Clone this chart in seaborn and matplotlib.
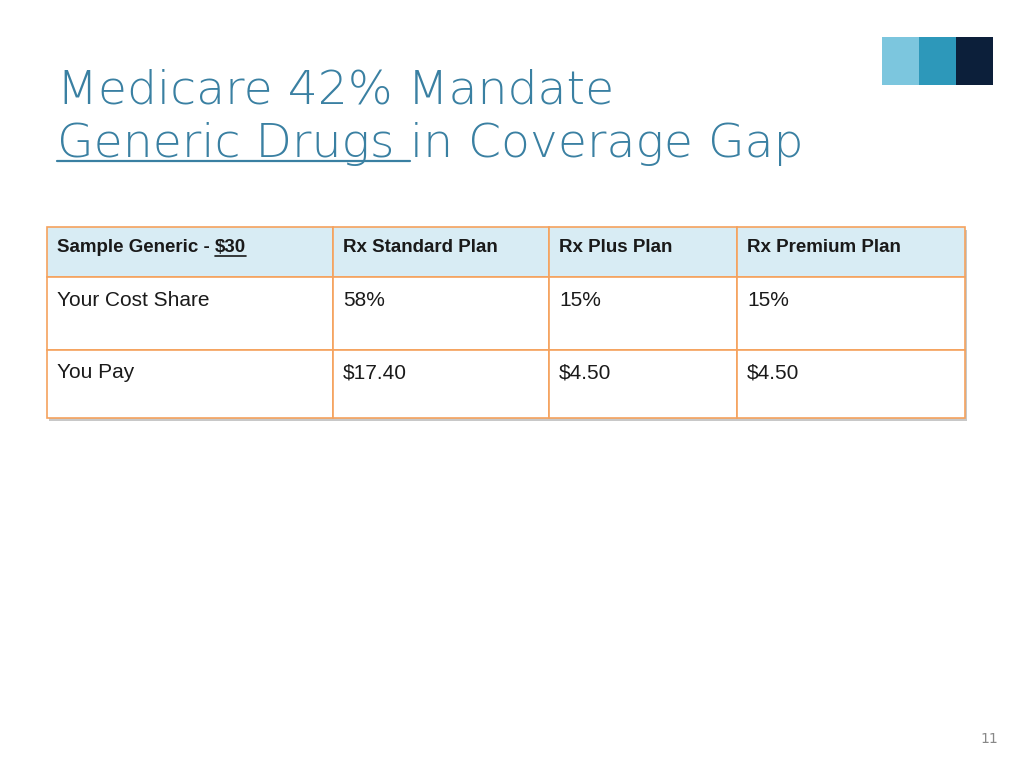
import matplotlib
matplotlib.use("Agg")
import matplotlib.pyplot as plt
import seaborn as sns
from matplotlib.patches import Rectangle

sns.set_theme(style="white")

# ---- data ----
header_lead = "Sample Generic - "
header_price = "$30"
plan_names = ["Rx Standard Plan", "Rx Plus Plan", "Rx Premium Plan"]
row_labels = ["Your Cost Share", "You Pay"]
cost_share = ["58%", "15%", "15%"]
you_pay = ["$17.40", "$4.50", "$4.50"]

# ---- layout (pixels) ----
col_edges = [47, 333, 549, 737, 965]
row_edges = [227, 277, 350, 418]
border = "#f5a25d"
header_fill = "#d8ecf4"
title_color = "#3a80a2"
ink = "#1a1a1a"

fig = plt.figure(figsize=(10.24, 7.68), dpi=100)
ax = fig.add_axes([0, 0, 1, 1])
ax.set_xlim(0, 1024)
ax.set_ylim(768, 0)
ax.axis("off")
renderer = fig.canvas.get_renderer()
inv = ax.transData.inverted()


def right_edge(t):
    bb = t.get_window_extent(renderer)
    return inv.transform((bb.x1, bb.y0))[0]


# title
tkw = dict(fontsize=34, color=title_color, family="DejaVu Sans",
           fontweight="light", va="baseline")
ax.text(57, 103, "Medicare 42% Mandate", **tkw)
t2 = ax.text(57, 157, "Generic Drugs ", **tkw)
x_in = right_edge(t2)
ax.text(x_in, 157, "in Coverage Gap", **tkw)
ax.plot([57, x_in], [161, 161], color=title_color, lw=1.6)

# corner squares
for x0, c in zip([882, 919, 956], ["#7cc6de", "#2d98ba", "#0c1f3a"]):
    ax.add_patch(Rectangle((x0, 37), 37, 48, color=c, lw=0))

# table shadow
ax.add_patch(Rectangle((col_edges[0] + 2, row_edges[0] + 3),
                       col_edges[-1] - col_edges[0], row_edges[-1] - row_edges[0],
                       color="#c8c8c8", lw=0, zorder=1))

rows = [[header_lead] + plan_names, [row_labels[0]] + cost_share,
        [row_labels[1]] + you_pay]
for r, vals in enumerate(rows):
    for c, v in enumerate(vals):
        x0, x1 = col_edges[c], col_edges[c + 1]
        y0, y1 = row_edges[r], row_edges[r + 1]
        ax.add_patch(Rectangle((x0, y0), x1 - x0, y1 - y0,
                               facecolor=header_fill if r == 0 else "white",
                               edgecolor=border, lw=1.2, zorder=2))
        if r == 0:
            t = ax.text(x0 + 10, y0 + 20, v, fontsize=13.5, fontweight="bold",
                        family="Liberation Sans", color=ink, va="center", zorder=3)
            if c == 0:
                xs = right_edge(t)
                tp = ax.text(xs, y0 + 20, header_price, fontsize=13.5,
                             fontweight="bold", family="Liberation Sans",
                             color=ink, va="center", zorder=3)
                ax.plot([xs, right_edge(tp)], [y0 + 29, y0 + 29], color=ink,
                        lw=1.2, zorder=4)
        else:
            ax.text(x0 + 10, y0 + 23, v, fontsize=15,
                    family="Liberation Sans", color=ink, va="center", zorder=3)

ax.text(998, 739, "11", fontsize=10, color="#888888", ha="right", va="center")

fig.savefig("out.png", dpi=100)
